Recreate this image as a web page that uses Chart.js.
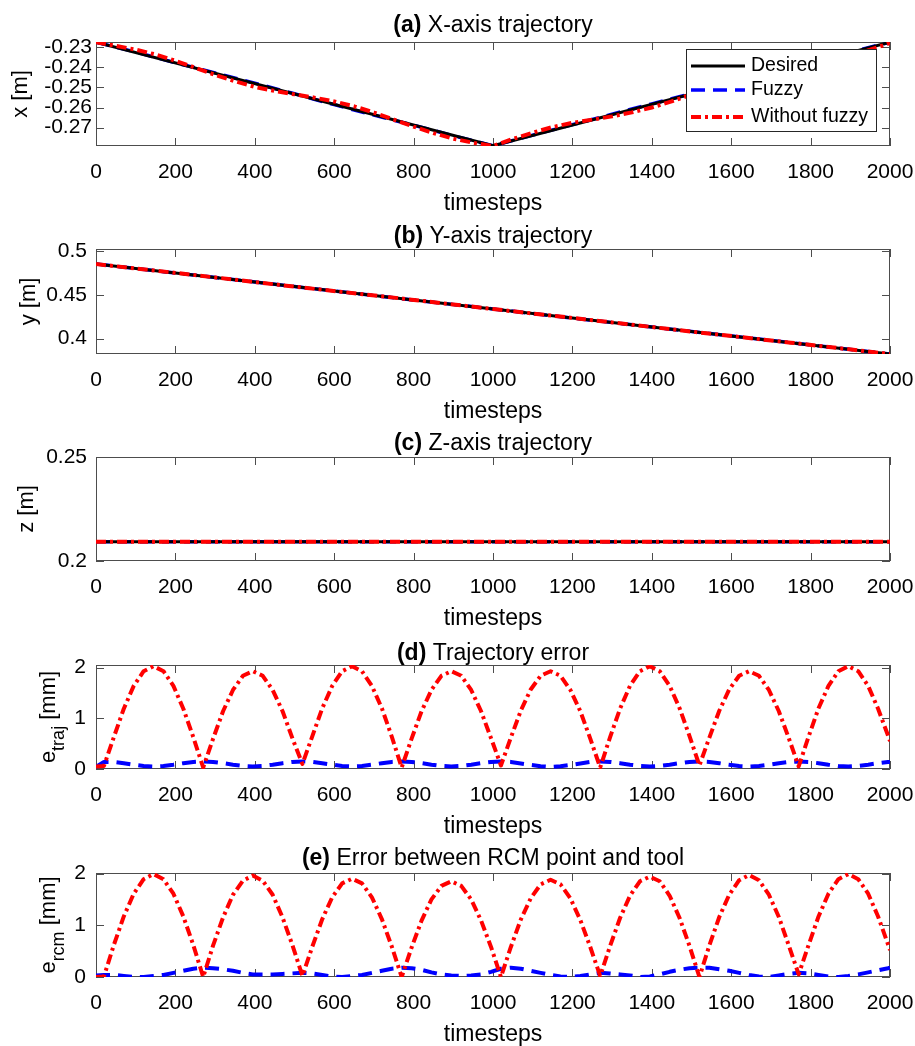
<!DOCTYPE html>
<html>
<head>
<meta charset="utf-8">
<script src="https://cdn.jsdelivr.net/npm/chart.js@4.4.1/dist/chart.umd.min.js"></script>
<style>
html, body { margin: 0; padding: 0; background: #fff; width: 915px; height: 1046px; overflow: hidden; }
canvas { position: absolute; left: 0; }
</style>
</head>
<body>
<canvas id="pa"></canvas>
<canvas id="pb"></canvas>
<canvas id="pc"></canvas>
<canvas id="pd"></canvas>
<canvas id="pe"></canvas>
<script>
// x-axis ticks shared by all panels
const xTicks = [0, 200, 400, 600, 800, 1000, 1200, 1400, 1600, 1800, 2000];

// (a) X-axis trajectory [m]
const tDesA = [0, 1000, 2000];
const xDesired = [-0.2276, -0.2790, -0.2276];
const tFuzA = [0, 100, 200, 300, 400, 500, 600, 700, 800, 900, 1000,
               1100, 1200, 1300, 1400, 1500, 1600, 1700, 1800, 1900, 2000];
const xFuzzy = [-0.2276, -0.2325, -0.2378, -0.2428, -0.2479, -0.2532, -0.2586, -0.2638, -0.2688, -0.2740, -0.2790,
                -0.2737, -0.2685, -0.2633, -0.2582, -0.2531, -0.2481, -0.2430, -0.2377, -0.2326, -0.2276];
const tNoA = [0, 50, 100, 150, 200, 250, 300, 350, 400, 450, 500, 550, 600, 650, 700, 750, 800, 850, 900, 950, 1000,
              1050, 1100, 1150, 1200, 1250, 1300, 1350, 1400, 1450, 1500, 1550, 1600, 1650, 1700, 1750, 1800, 1850, 1900, 1950, 2000];
const xNoFuzzy = [-0.2276, -0.2294, -0.2313, -0.2337, -0.2368, -0.2403, -0.2438, -0.2470, -0.2498, -0.2518, -0.2535,
                  -0.2551, -0.2570, -0.2594, -0.2625, -0.2660, -0.2695, -0.2727, -0.2755, -0.2775, -0.2791,
                  -0.2756, -0.2725, -0.2697, -0.2676, -0.2660, -0.2644, -0.2624, -0.2600, -0.2570, -0.2535,
                  -0.2499, -0.2468, -0.2440, -0.2419, -0.2403, -0.2387, -0.2367, -0.2343, -0.2313, -0.2280];
const xYTicks = [-0.27, -0.26, -0.25, -0.24, -0.23];

// (b) Y-axis trajectory [m]
const tB = [0, 250, 500, 750, 1000, 1250, 1500, 1750, 2000];
const yDesired = [0.4849, 0.4721, 0.4593, 0.4465, 0.4338, 0.4210, 0.4082, 0.3954, 0.3826];
const yFuzzy = [0.4849, 0.4722, 0.4593, 0.4466, 0.4338, 0.4209, 0.4082, 0.3955, 0.3826];
const yNoFuzzy = [0.4849, 0.4723, 0.4592, 0.4467, 0.4337, 0.4211, 0.4081, 0.3955, 0.3826];
const yYTicks = [0.4, 0.45, 0.5];

// (c) Z-axis trajectory [m]
const tC = [0, 500, 1000, 1500, 2000];
const zDesired = [0.2093, 0.2093, 0.2093, 0.2093, 0.2093];
const zFuzzy = [0.2093, 0.2093, 0.2093, 0.2093, 0.2093];
const zNoFuzzy = [0.2093, 0.2093, 0.2093, 0.2093, 0.2093];
const zYTicks = [0.2, 0.25];

// (d), (e) errors [mm]
const tErr = [0, 20, 45, 70, 95, 120, 145, 170, 195, 220, 245,
              270, 295, 320, 345, 370, 395, 420, 445, 470, 495,
              520, 545, 570, 595, 620, 645, 670, 695, 720, 745,
              770, 795, 820, 845, 870, 895, 920, 945, 970, 995,
              1020, 1045, 1070, 1095, 1120, 1145, 1170, 1195, 1220, 1245,
              1270, 1295, 1320, 1345, 1370, 1395, 1420, 1445, 1470, 1495,
              1520, 1545, 1570, 1595, 1620, 1645, 1670, 1695, 1720, 1745,
              1770, 1795, 1820, 1845, 1870, 1895, 1920, 1945, 1970, 1995,
              2000];
const trajNoFuzzy = [0.05, 0.06, 0.63, 1.19, 1.64, 1.93, 2.03, 1.93, 1.64, 1.19, 0.63,
                     0.03, 0.60, 1.14, 1.56, 1.84, 1.93, 1.84, 1.56, 1.14, 0.60,
                     0.10, 0.65, 1.20, 1.64, 1.93, 2.03, 1.93, 1.64, 1.20, 0.64,
                     0.03, 0.60, 1.14, 1.56, 1.84, 1.93, 1.84, 1.56, 1.14, 0.61,
                     0.07, 0.62, 1.15, 1.57, 1.84, 1.93, 1.84, 1.56, 1.14, 0.60,
                     0.03, 0.63, 1.19, 1.64, 1.93, 2.03, 1.93, 1.64, 1.20, 0.65,
                     0.07, 0.62, 1.15, 1.57, 1.84, 1.93, 1.84, 1.56, 1.14, 0.61,
                     0.05, 0.64, 1.20, 1.64, 1.93, 2.03, 1.93, 1.64, 1.19, 0.66,
                     0.55];
const trajFuzzy = [0.04, 0.14, 0.14, 0.115, 0.085, 0.06, 0.05, 0.06, 0.085, 0.115, 0.14,
                   0.15, 0.14, 0.115, 0.085, 0.06, 0.05, 0.06, 0.085, 0.115, 0.14,
                   0.15, 0.14, 0.115, 0.085, 0.06, 0.05, 0.06, 0.085, 0.115, 0.14,
                   0.15, 0.14, 0.115, 0.085, 0.06, 0.05, 0.06, 0.085, 0.115, 0.14,
                   0.15, 0.14, 0.11, 0.08, 0.055, 0.04, 0.055, 0.08, 0.11, 0.14,
                   0.15, 0.14, 0.115, 0.085, 0.06, 0.05, 0.06, 0.085, 0.115, 0.14,
                   0.15, 0.14, 0.115, 0.085, 0.06, 0.05, 0.06, 0.085, 0.115, 0.14,
                   0.15, 0.14, 0.115, 0.085, 0.06, 0.05, 0.06, 0.085, 0.115, 0.14,
                   0.14];
const rcmNoFuzzy = [0.00, 0.01, 0.62, 1.17, 1.61, 1.89, 1.99, 1.89, 1.61, 1.17, 0.62,
                    0.00, 0.61, 1.15, 1.59, 1.86, 1.96, 1.86, 1.59, 1.15, 0.61,
                    0.02, 0.59, 1.12, 1.54, 1.81, 1.90, 1.81, 1.54, 1.12, 0.59,
                    0.00, 0.57, 1.09, 1.50, 1.76, 1.85, 1.76, 1.50, 1.09, 0.58,
                    0.00, 0.58, 1.11, 1.52, 1.79, 1.88, 1.79, 1.52, 1.10, 0.58,
                    0.02, 0.60, 1.14, 1.57, 1.85, 1.94, 1.85, 1.57, 1.14, 0.60,
                    0.00, 0.61, 1.16, 1.59, 1.87, 1.97, 1.87, 1.59, 1.16, 0.61,
                    0.05, 0.62, 1.17, 1.61, 1.89, 1.99, 1.89, 1.61, 1.17, 0.63,
                    0.52];
const rcmFuzzy = [0.03, 0.04, 0.04, 0.02, 0.00, 0.00, 0.02, 0.04, 0.08, 0.12, 0.16,
                  0.18, 0.17, 0.15, 0.12, 0.08, 0.05, 0.05, 0.05, 0.06, 0.07,
                  0.08, 0.07, 0.04, 0.01, 0.00, 0.02, 0.04, 0.08, 0.12, 0.16,
                  0.18, 0.17, 0.14, 0.09, 0.05, 0.03, 0.02, 0.03, 0.05, 0.10,
                  0.16, 0.18, 0.16, 0.12, 0.08, 0.04, 0.01, 0.00, 0.02, 0.05,
                  0.08, 0.07, 0.05, 0.03, 0.00, 0.01, 0.05, 0.10, 0.14, 0.17,
                  0.18, 0.18, 0.15, 0.12, 0.08, 0.04, 0.01, 0.00, 0.03, 0.06,
                  0.08, 0.07, 0.04, 0.01, 0.00, 0.02, 0.05, 0.09, 0.13, 0.17,
                  0.18];
const errYTicks = [0, 1, 2];

const FONT = '"Liberation Sans", Arial, Helvetica, sans-serif';
const RED = 'rgb(255,0,0)', BLUE = 'rgb(0,0,255)', BLACK = '#000';
const DASH_FUZZY = [14, 8];
const DASH_NOFUZZY = [10, 4, 3, 4];

function pts(ts, vs) { return ts.map((t, i) => ({ x: t, y: vs[i] })); }

function series(label, ts, vs, color, width, dash) {
  return { label, data: pts(ts, vs), borderColor: color, borderWidth: width, borderDash: dash,
           pointRadius: 0, fill: false, tension: 0, borderJoinStyle: 'round' };
}

function deco(spec) {
  return {
    id: 'deco',
    beforeDatasetsDraw(chart) {
      const { ctx, chartArea: a, scales } = chart;
      ctx.save();
      ctx.strokeStyle = '#4d4d4d';
      ctx.lineWidth = 1;
      ctx.strokeRect(a.left + 0.5, a.top + 0.5, a.right - a.left - 1, a.bottom - a.top - 1);
      ctx.beginPath();
      scales.x.ticks.forEach(t => {
        const px = Math.round(scales.x.getPixelForValue(t.value)) + 0.5;
        ctx.moveTo(px, a.bottom); ctx.lineTo(px, a.bottom - 8);
        ctx.moveTo(px, a.top); ctx.lineTo(px, a.top + 8);
      });
      scales.y.ticks.forEach(t => {
        const py = Math.round(scales.y.getPixelForValue(t.value)) + 0.5;
        ctx.moveTo(a.left, py); ctx.lineTo(a.left + 8, py);
        ctx.moveTo(a.right, py); ctx.lineTo(a.right - 8, py);
      });
      ctx.stroke();
      ctx.restore();
    },
    afterDraw(chart) {
      const { ctx, chartArea: a } = chart;
      const cx = (a.left + a.right) / 2;
      ctx.save();
      ctx.fillStyle = '#000';
      ctx.textBaseline = 'alphabetic';
      ctx.textAlign = 'left';

      // title: bold tag + normal text
      const bold = 'bold 23px ' + FONT, normal = '23px ' + FONT;
      ctx.font = bold; const w1 = ctx.measureText(spec.tag).width;
      ctx.font = normal; const w2 = ctx.measureText(' ' + spec.title).width;
      const x0 = cx - (w1 + w2) / 2, ty = a.top - spec.titleGap;
      ctx.font = bold; ctx.fillText(spec.tag, x0, ty);
      ctx.font = normal; ctx.fillText(' ' + spec.title, x0 + w1, ty);

      // x label
      ctx.textAlign = 'center';
      ctx.font = '23px ' + FONT;
      ctx.fillText('timesteps', cx, a.bottom + 64);

      // y label (rotated, optional subscript)
      ctx.save();
      ctx.translate(spec.ylabelX, (a.top + a.bottom) / 2);
      ctx.rotate(-Math.PI / 2);
      ctx.textAlign = 'left';
      const mainF = '22px ' + FONT, subF = '18px ' + FONT;
      ctx.font = mainF; const wm = ctx.measureText(spec.ymain).width;
      const wr = spec.yrest ? ctx.measureText(spec.yrest).width : 0;
      ctx.font = subF; const ws = spec.ysub ? ctx.measureText(spec.ysub).width : 0;
      let s = -(wm + ws + wr) / 2;
      ctx.font = mainF; ctx.fillText(spec.ymain, s, 0);
      if (spec.ysub) { ctx.font = subF; ctx.fillText(spec.ysub, s + wm, 9); }
      if (spec.yrest) { ctx.font = mainF; ctx.fillText(spec.yrest, s + wm + ws, 0); }
      ctx.restore();

      // legend (panel a only)
      if (spec.legend) {
        const L = spec.legend;
        ctx.fillStyle = '#fff';
        ctx.fillRect(L.x, L.y, L.w, L.h);
        ctx.strokeStyle = '#262626';
        ctx.lineWidth = 1;
        ctx.strokeRect(L.x + 0.5, L.y + 0.5, L.w, L.h);
        const byLabel = {};
        chart.data.datasets.forEach(d => { byLabel[d.label] = d; });
        L.items.forEach((name, i) => {
          const d = byLabel[name], ry = L.rows[i];
          ctx.save();
          ctx.strokeStyle = d.borderColor;
          ctx.lineWidth = d.borderWidth;
          ctx.setLineDash(d.borderDash || []);
          ctx.beginPath();
          ctx.moveTo(L.x + 5, ry); ctx.lineTo(L.x + 59, ry);
          ctx.stroke();
          ctx.restore();
          ctx.fillStyle = '#000';
          ctx.font = '19.5px ' + FONT;
          ctx.textAlign = 'left';
          ctx.textBaseline = 'middle';
          ctx.fillText(name, L.x + 65, ry);
        });
      }
      ctx.restore();
    }
  };
}

function panel(id, cfg) {
  const cv = document.getElementById(id);
  cv.width = 915;
  cv.height = 42 + cfg.h + 70;
  cv.style.top = (cfg.top - 42) + 'px';
  new Chart(cv, {
    type: 'line',
    data: { datasets: cfg.datasets },
    options: {
      responsive: false,
      animation: false,
      devicePixelRatio: 1,
      layout: { padding: { top: 42, right: 25, left: 0, bottom: 0 } },
      plugins: { legend: { display: false }, tooltip: { enabled: false }, title: { display: false } },
      scales: {
        x: {
          type: 'linear', min: 0, max: 2000,
          grid: { display: false, drawTicks: false },
          border: { display: false },
          afterBuildTicks: s => { s.ticks = xTicks.map(v => ({ value: v })); },
          afterFit: s => { s.height = 70; s.paddingLeft = 0; s.paddingRight = 0; },
          ticks: { font: { family: FONT, size: 21 }, color: '#000', padding: 14, maxRotation: 0,
                   autoSkip: false, callback: v => String(v) }
        },
        y: {
          type: 'linear', min: cfg.yMin, max: cfg.yMax,
          grid: { display: false, drawTicks: false },
          border: { display: false },
          afterBuildTicks: s => { s.ticks = cfg.yTicks.map(v => ({ value: v })); },
          afterFit: s => { s.width = 96; },
          ticks: { font: { family: FONT, size: 21 }, color: '#000', padding: cfg.yPad,
                   autoSkip: false, callback: v => String(v) }
        }
      }
    },
    plugins: [deco(cfg)]
  });
}

panel('pa', {
  top: 42, h: 104, yMin: -0.2791, yMax: -0.2275, yTicks: xYTicks, yPad: 4,
  tag: '(a)', title: 'X-axis trajectory', titleGap: 10,
  ymain: 'x [m]', ylabelX: 27,
  legend: { x: 686, y: 49, w: 190, h: 82, rows: [66, 90, 117], items: ['Desired', 'Fuzzy', 'Without fuzzy'] },
  datasets: [
    series('Without fuzzy', tNoA, xNoFuzzy, RED, 4, DASH_NOFUZZY),
    series('Desired', tDesA, xDesired, BLACK, 3, []),
    series('Fuzzy', tFuzA, xFuzzy, BLUE, 3.5, DASH_FUZZY)
  ]
});

panel('pb', {
  top: 249, h: 105, yMin: 0.3826, yMax: 0.502, yTicks: yYTicks, yPad: 9,
  tag: '(b)', title: 'Y-axis trajectory', titleGap: 6,
  ymain: 'y [m]', ylabelX: 35,
  datasets: [
    series('Without fuzzy', tB, yNoFuzzy, RED, 4, DASH_NOFUZZY),
    series('Desired', tB, yDesired, BLACK, 3, []),
    series('Fuzzy', tB, yFuzzy, BLUE, 3.5, DASH_FUZZY)
  ]
});

panel('pc', {
  top: 457, h: 104, yMin: 0.2, yMax: 0.25, yTicks: zYTicks, yPad: 9,
  tag: '(c)', title: 'Z-axis trajectory', titleGap: 7,
  ymain: 'z [m]', ylabelX: 33,
  datasets: [
    series('Without fuzzy', tC, zNoFuzzy, RED, 4, DASH_NOFUZZY),
    series('Desired', tC, zDesired, BLACK, 3, []),
    series('Fuzzy', tC, zFuzzy, BLUE, 3.5, DASH_FUZZY)
  ]
});

panel('pd', {
  top: 665, h: 104, yMin: 0, yMax: 2.053, yTicks: errYTicks, yPad: 10,
  tag: '(d)', title: 'Trajectory error', titleGap: 5,
  ymain: 'e', ysub: 'traj', yrest: ' [mm]', ylabelX: 55,
  datasets: [
    series('Without fuzzy', tErr, trajNoFuzzy, RED, 4, DASH_NOFUZZY),
    series('Fuzzy', tErr, trajFuzzy, BLUE, 4, DASH_FUZZY)
  ]
});

panel('pe', {
  top: 873, h: 104, yMin: 0, yMax: 2.01, yTicks: errYTicks, yPad: 10,
  tag: '(e)', title: 'Error between RCM point and tool', titleGap: 8,
  ymain: 'e', ysub: 'rcm', yrest: ' [mm]', ylabelX: 55,
  datasets: [
    series('Without fuzzy', tErr, rcmNoFuzzy, RED, 4, DASH_NOFUZZY),
    series('Fuzzy', tErr, rcmFuzzy, BLUE, 4, DASH_FUZZY)
  ]
});
</script>
</body>
</html>
